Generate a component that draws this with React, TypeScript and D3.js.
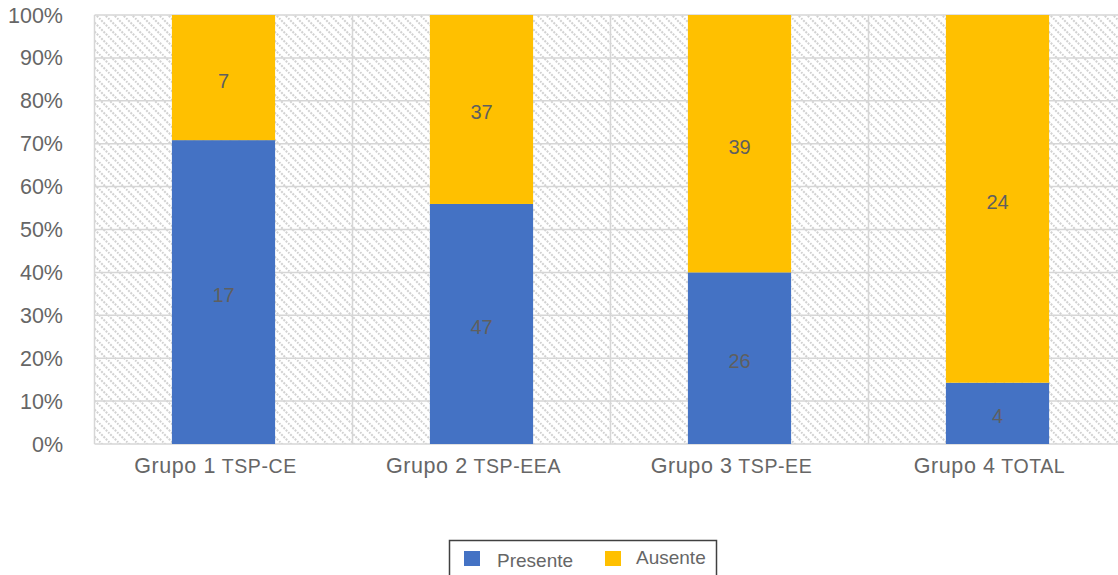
import React from "react";
import * as d3 from "d3";

const groups = ["Grupo 1", "Grupo 2", "Grupo 3", "Grupo 4"];
const subLabels = ["TSP-CE", "TSP-EEA", "TSP-EE", "TOTAL"];
const presente = [17, 47, 26, 4];
const ausente = [7, 37, 39, 24];
const seriesNames = ["Presente", "Ausente"];
const seriesColors = ["#4472C4", "#FFC000"];
const yTicks = [0, 0.1, 0.2, 0.3, 0.4, 0.5, 0.6, 0.7, 0.8, 0.9, 1.0];

const W = 1118;
const H = 575;
const margin = { left: 94.5, top: 15, bottom: 444 };
const plotRight = 94.5 + 258 * 4;

export default function App() {
  const x = d3.scaleBand<string>().domain(groups).range([margin.left, plotRight]).paddingInner(0).paddingOuter(0);
  const y = d3.scaleLinear().domain([0, 1]).range([margin.bottom, margin.top]);
  const barW = x.bandwidth() * 0.4;
  const fmt = d3.format(".0%");
  const font = "'Liberation Sans', Arial, Helvetica, sans-serif";
  const textColor = "#666666";

  const rows = groups.map((g, i) => {
    const total = presente[i] + ausente[i];
    return { g, p: presente[i], a: ausente[i], pf: presente[i] / total };
  });

  return (
    <svg width={W} height={H} style={{ position: "absolute", left: 0, top: 0 }} fontFamily={font}>
      <defs>
        <pattern id="hatch" width="9" height="9" patternUnits="userSpaceOnUse">
          <rect width="9" height="9" fill="#ffffff" />
          <path d="M0,0 L9,9 M-2,7 L2,11 M7,-2 L11,2" stroke="#d2d2d2" strokeWidth="2" strokeDasharray="2 1.2" />
        </pattern>
      </defs>
      <rect x={margin.left} y={margin.top} width={plotRight - margin.left} height={margin.bottom - margin.top} fill="url(#hatch)" />
      {yTicks.map((t) => (
        <line key={"g" + t} x1={margin.left} x2={plotRight} y1={y(t)} y2={y(t)} stroke="#d6d6d6" strokeWidth={1.5} />
      ))}
      {groups.map((g) => (
        <line key={"v" + g} x1={x(g) as number} x2={x(g) as number} y1={margin.top} y2={margin.bottom} stroke="#d6d6d6" strokeWidth={1.5} />
      ))}
      {yTicks.map((t) => (
        <text key={"t" + t} x={63} y={y(t)} dy="0.35em" textAnchor="end" fontSize={21.5} fill={textColor}>
          {fmt(t)}
        </text>
      ))}
      {rows.map((r) => {
        const cx = (x(r.g) as number) + x.bandwidth() / 2;
        return (
          <g key={r.g}>
            <rect x={cx - barW / 2} y={y(r.pf)} width={barW} height={y(0) - y(r.pf)} fill={seriesColors[0]} />
            <rect x={cx - barW / 2} y={y(1)} width={barW} height={y(r.pf) - y(1)} fill={seriesColors[1]} />
            <text x={cx} y={(y(0) + y(r.pf)) / 2 + 3} dy="0.35em" textAnchor="middle" fontSize={20} fill="#5f5f5f">
              {r.p}
            </text>
            <text x={cx} y={(y(1) + y(r.pf)) / 2 + 3} dy="0.35em" textAnchor="middle" fontSize={20} fill="#5f5f5f">
              {r.a}
            </text>
          </g>
        );
      })}
      {groups.map((g, i) => {
        const cx = (x(g) as number) + x.bandwidth() / 2;
        return (
          <text key={"c" + g} x={cx - 8} y={467} dy="0.35em" textAnchor="middle" fill={textColor} letterSpacing={0.6}>
            <tspan fontSize={21.5}>{g}</tspan>
            <tspan fontSize={19.5}>{" " + subLabels[i]}</tspan>
          </text>
        );
      })}
      <g>
        <rect x={449.5} y={540.5} width={267} height={40} fill="none" stroke="#404040" strokeWidth={1.5} />
        <rect x={464} y={551} width={16} height={15} fill={seriesColors[0]} />
        <text x={497} y={560} dy="0.35em" fontSize={19} fill={textColor}>{seriesNames[0]}</text>
        <rect x={605} y={551} width={16} height={15} fill={seriesColors[1]} />
        <text x={636} y={557} dy="0.35em" fontSize={19} fill={textColor}>{seriesNames[1]}</text>
      </g>
    </svg>
  );
}
